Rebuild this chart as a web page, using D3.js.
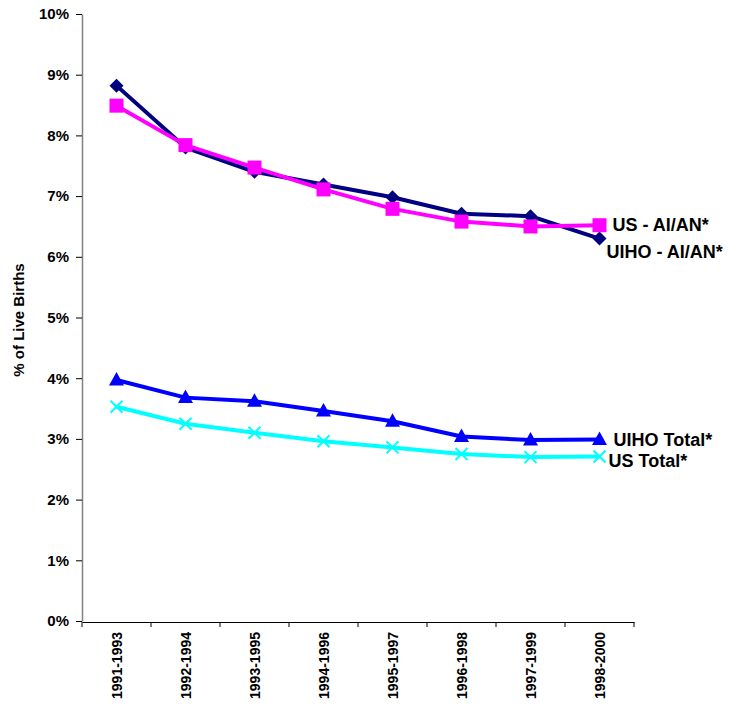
<!DOCTYPE html>
<html>
<head>
<meta charset="utf-8">
<script src="https://cdn.jsdelivr.net/npm/d3@7"></script>
<style>
  html, body { margin: 0; padding: 0; background: #fff; }
  svg { display: block; font-family: "Liberation Sans", Arial, sans-serif; }
</style>
</head>
<body>
<svg id="chart" width="749" height="717"></svg>
<script>
const categories = ["1991-1993","1992-1994","1993-1995","1994-1996","1995-1997","1996-1998","1997-1999","1998-2000"];
const uihoAian = [8.82, 7.80, 7.40, 7.19, 6.98, 6.71, 6.67, 6.30];
const usAian   = [8.49, 7.84, 7.47, 7.11, 6.79, 6.58, 6.50, 6.52];
const uihoTotal = [3.97, 3.68, 3.62, 3.46, 3.29, 3.04, 2.98, 2.99];
const usTotal   = [3.53, 3.25, 3.10, 2.96, 2.86, 2.75, 2.70, 2.71];
const yTicks = [0,1,2,3,4,5,6,7,8,9,10];
const yTitle = "% of Live Births";
const seriesLabels = ["UIHO - AI/AN*", "US - AI/AN*", "UIHO Total*", "US Total*"];

const svg = d3.select("#chart");
const pLeft = 82, pRight = 634, pTop = 14, pBottom = 621;

const x = d3.scaleBand().domain(categories).range([pLeft, pRight]).paddingInner(0).paddingOuter(0);
const y = d3.scaleLinear().domain([0, 10]).range([pBottom, pTop]);
const cx = d => x(d) + x.bandwidth() / 2;

// Y axis
const yAxis = svg.append("g").attr("transform", `translate(${pLeft},0)`)
  .call(d3.axisLeft(y).tickValues(yTicks).tickFormat(d => d + "%").tickSize(6).tickSizeOuter(0));
yAxis.select(".domain").attr("stroke", "#808080").attr("stroke-width", 1.5);
yAxis.selectAll(".tick line").attr("stroke", "#000").attr("stroke-width", 1);
yAxis.selectAll(".tick text").attr("font-size", 15).attr("font-weight", "bold").attr("fill", "#000")
  .attr("x", -13).attr("font-family", "Liberation Sans, Arial, sans-serif");

// X axis
const xAxis = svg.append("g").attr("transform", `translate(0,${pBottom + 1})`)
  .call(d3.axisBottom(x).tickValues([]).tickSizeOuter(0));
xAxis.select(".domain").attr("stroke", "#000").attr("stroke-width", 1.2);
const bounds = categories.map(c => x(c)).concat([pRight]);
svg.append("g").selectAll("line").data(bounds).join("line")
  .attr("x1", d => d).attr("x2", d => d)
  .attr("y1", pBottom + 1).attr("y2", pBottom + 6)
  .attr("stroke", "#000").attr("stroke-width", 1);
svg.append("g").selectAll("text").data(categories).join("text")
  .attr("transform", d => `translate(${cx(d) + 5},${pBottom + 11}) rotate(-90)`)
  .attr("text-anchor", "end")
  .attr("font-size", 14).attr("font-weight", "bold").attr("fill", "#000")
  .text(d => d);

// Y title
svg.append("text")
  .attr("transform", `translate(24,320) rotate(-90)`)
  .attr("text-anchor", "middle")
  .attr("font-size", 15).attr("font-weight", "bold")
  .text(yTitle);

const line = d3.line().x((d, i) => cx(categories[i])).y(d => y(d));

const series = [
  { vals: usTotal, color: "#00FFFF", marker: "x" },
  { vals: uihoTotal, color: "#0000FF", marker: "triangle" },
  { vals: uihoAian, color: "#000080", marker: "diamond" },
  { vals: usAian, color: "#FF00FF", marker: "square" }
];

series.forEach(s => {
  svg.append("path").datum(s.vals)
    .attr("d", line).attr("fill", "none")
    .attr("stroke", s.color).attr("stroke-width", 4).attr("stroke-linejoin", "round");
});

series.forEach(s => {
  const g = svg.append("g");
  s.vals.forEach((v, i) => {
    const px = cx(categories[i]), py = y(v);
    if (s.marker === "x") {
      g.append("path").attr("d", `M${px-6},${py-6}L${px+6},${py+6}M${px+6},${py-6}L${px-6},${py+6}`)
        .attr("stroke", s.color).attr("stroke-width", 2).attr("fill", "none");
    } else if (s.marker === "triangle") {
      g.append("path").attr("d", `M${px},${py-8}L${px+7.5},${py+5.5}L${px-7.5},${py+5.5}Z`).attr("fill", s.color);
    } else if (s.marker === "diamond") {
      g.append("path").attr("d", `M${px},${py-7}L${px+7},${py}L${px},${py+7}L${px-7},${py}Z`).attr("fill", s.color);
    } else {
      g.append("rect").attr("x", px - 7).attr("y", py - 7).attr("width", 14).attr("height", 14).attr("fill", s.color);
    }
  });
});

// End labels
const lastX = cx(categories[categories.length - 1]);
const labelData = [
  { text: seriesLabels[1], v: usAian[7], dx: 13, dy: 6 },
  { text: seriesLabels[0], v: uihoAian[7], dx: 7, dy: 19 },
  { text: seriesLabels[2], v: uihoTotal[7], dx: 14, dy: 6 },
  { text: seriesLabels[3], v: usTotal[7], dx: 9, dy: 10 }
];
svg.append("g").selectAll("text").data(labelData).join("text")
  .attr("x", d => lastX + d.dx).attr("y", d => y(d.v) + d.dy)
  .attr("font-size", 18).attr("font-weight", "bold").attr("fill", "#000")
  .text(d => d.text);
</script>
</body>
</html>
